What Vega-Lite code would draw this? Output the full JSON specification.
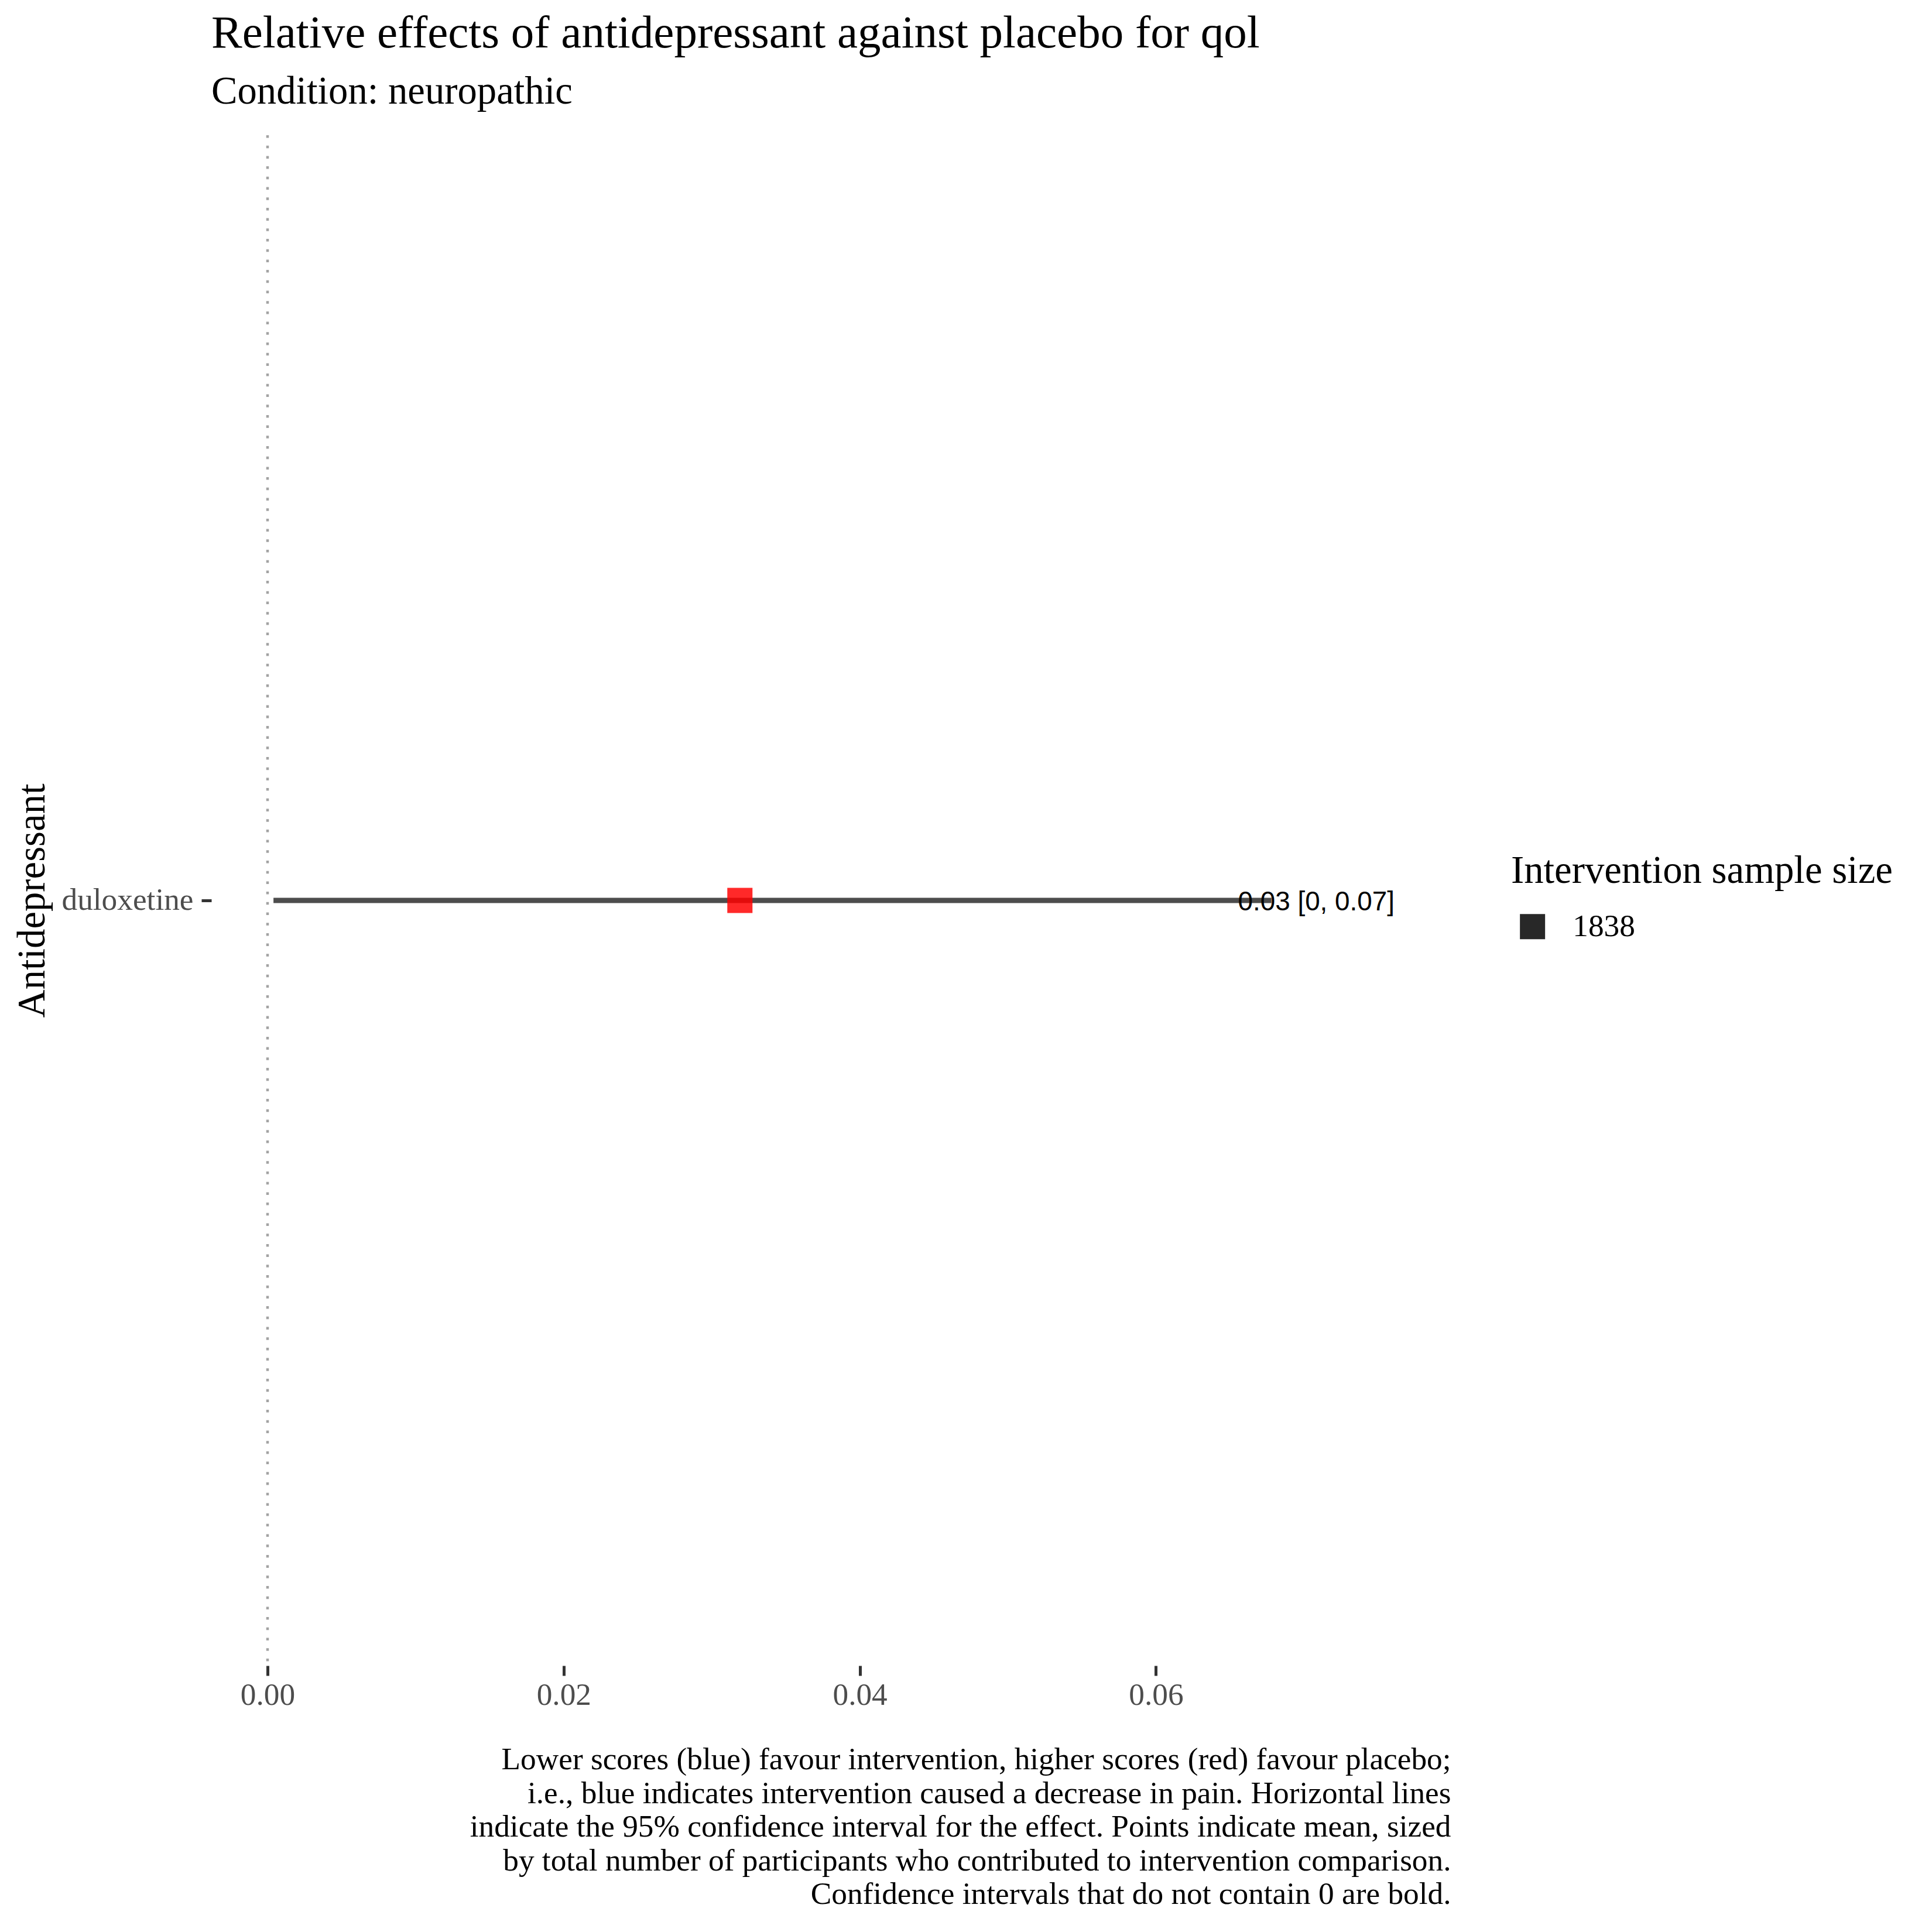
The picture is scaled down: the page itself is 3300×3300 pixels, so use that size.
{
  "$schema": "https://vega.github.io/schema/vega-lite/v6.json",
  "width": 2117,
  "height": 2614,
  "autosize": {"type": "none"},
  "padding": {"left": 361, "top": 231, "right": 822, "bottom": 455},
  "background": "white",
  "config": {"view": {"stroke": null}},
  "title": {
    "text": "Relative effects of antidepressant against placebo for qol",
    "subtitle": "Condition: neuropathic",
    "anchor": "start",
    "frame": "group",
    "font": "Liberation Serif",
    "fontSize": 79,
    "fontWeight": "normal",
    "color": "black",
    "subtitleFont": "Liberation Serif",
    "subtitleFontSize": 66.7,
    "subtitleColor": "black",
    "subtitlePadding": 26,
    "offset": 37,
    "limit": 3000
  },
  "data": {
    "values": [
      {"antidepressant": "duloxetine", "mean": 0.0319, "lower": 0.0004, "upper": 0.0678, "label": "0.03 [0, 0.07]", "n": 1838}
    ]
  },
  "encoding": {
    "y": {
      "field": "antidepressant",
      "type": "nominal",
      "axis": {
        "title": "Antidepressant",
        "titleFont": "Liberation Serif",
        "titleFontSize": 66.7,
        "titleFontWeight": "normal",
        "titleColor": "black",
        "titlePadding": 72,
        "titleLimit": 3000,
        "labelFont": "Liberation Serif",
        "labelFontSize": 53.3,
        "labelColor": "#4d4d4d",
        "labelPadding": 14,
        "labelLimit": 1000,
        "tickSize": 17,
        "tickWidth": 5,
        "tickColor": "#333333",
        "domain": false,
        "grid": false
      }
    }
  },
  "layer": [
    {
      "mark": {"type": "rule", "color": "#a3a3a3", "strokeWidth": 4.5, "strokeDash": [4.5, 13.2]},
      "encoding": {
        "y": null,
        "x": {
          "datum": 0,
          "type": "quantitative",
          "scale": {"domain": [-0.003796, 0.07991], "nice": false, "zero": false},
          "axis": {
            "values": [0, 0.02, 0.04, 0.06],
            "format": ".2f",
            "title": [
              "Lower scores (blue) favour intervention, higher scores (red) favour placebo;",
              "i.e., blue indicates intervention caused a decrease in pain. Horizontal lines",
              "indicate the 95% confidence interval for the effect. Points indicate mean, sized",
              "by total number of participants who contributed to intervention comparison.",
              "Confidence intervals that do not contain 0 are bold."
            ],
            "titleAnchor": "end",
            "titleAlign": "right",
            "titleFont": "Liberation Serif",
            "titleFontSize": 53.3,
            "titleFontWeight": "normal",
            "titleColor": "black",
            "titleLineHeight": 57.5,
            "titlePadding": 58,
            "titleLimit": 3000,
            "labelFont": "Liberation Serif",
            "labelFontSize": 53.3,
            "labelColor": "#4d4d4d",
            "labelPadding": 7.5,
            "tickSize": 17,
            "tickWidth": 5,
            "tickColor": "#333333",
            "domain": false,
            "grid": false
          }
        }
      }
    },
    {
      "mark": {"type": "rule", "color": "#4d4d4d", "strokeWidth": 9},
      "encoding": {
        "x": {"field": "lower", "type": "quantitative"},
        "x2": {"field": "upper"}
      }
    },
    {
      "mark": {"type": "point", "shape": "square", "filled": true, "color": "#282828", "opacity": 0},
      "encoding": {
        "x": {"field": "mean", "type": "quantitative"},
        "size": {
          "field": "n",
          "type": "quantitative",
          "scale": {"domain": [0, 1838], "range": [0, 1849]},
          "legend": {
            "title": "Intervention sample size",
            "orient": "none",
            "legendX": 2220,
            "legendY": 1223.5,
            "values": [1838],
            "format": "d",
            "symbolType": "square",
            "titleFont": "Liberation Serif",
            "titleFontSize": 66.7,
            "titleFontWeight": "normal",
            "titleColor": "black",
            "titleLimit": 3000,
            "labelFont": "Liberation Serif",
            "labelFontSize": 53.3,
            "labelColor": "black",
            "labelLimit": 1000,
            "titlePadding": 35,
            "symbolOffset": 10,
            "labelOffset": 42,
            "padding": 0,
            "symbolFillColor": "#282828",
            "symbolStrokeWidth": 0,
            "symbolOpacity": 1
          }
        }
      }
    },
    {
      "mark": {"type": "point", "shape": "square", "filled": true, "color": "red", "opacity": 0.84},
      "encoding": {
        "x": {"field": "mean", "type": "quantitative"},
        "size": {"field": "n", "type": "quantitative", "legend": null}
      }
    },
    {
      "mark": {"type": "text", "font": "Liberation Sans", "fontSize": 45.8, "color": "black", "align": "center", "baseline": "middle", "dx": 76.5, "dy": 3},
      "encoding": {
        "x": {"field": "upper", "type": "quantitative"},
        "text": {"field": "label"}
      }
    }
  ]
}
